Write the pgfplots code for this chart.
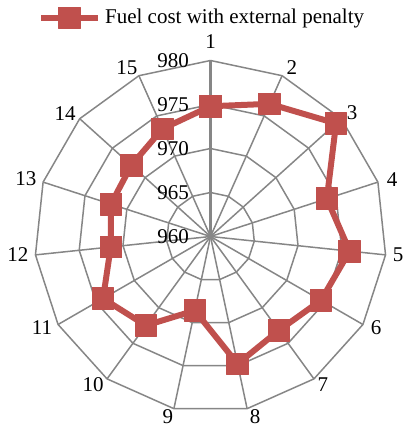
\documentclass[border=0pt]{standalone}
\usepackage{fontspec}
\setmainfont{Liberation Serif}
\usepackage{pgfplots}
\pgfplotsset{compat=1.18}
\usepackage{pgfplotstable}

\definecolor{fuelred}{RGB}{192,80,77}
\definecolor{webgray}{RGB}{134,134,134}
\newcommand\chartfont{\fontsize{10.5}{12.6}\selectfont}

% spoke angle (degrees, clockwise from the top) and fuel cost per case
\pgfplotstableread{
idx a v
1 90 974.8
2 66 976.5
3 42 979.2
4 18 973.9
5 -6 975.9
6 -30 974.5
7 -54 973.2
8 -78 974.8
9 -102 968.6
10 -126 972.5
11 -150 974.1
12 -174 971.4
13 -198 971.9
14 -222 972.1
15 -246 973.4
1 -270 974.8
}\fuelcost

\begin{document}
\begin{tikzpicture}[font=\chartfont]
\begin{axis}[
  anchor=origin,
  x=4.4pt, y=4.4pt,
  xmin=-20, xmax=20, ymin=-20, ymax=20,
  hide axis, clip=false,
  legend style={at={(axis description cs:0.479,1.121)}, anchor=center,
    draw=none, fill=none, font=\chartfont, inner sep=0pt},
  legend image code/.code={\draw[#1, mark repeat=2, mark phase=2]
    plot coordinates {(0pt,0pt) (14.25pt,0pt) (28.5pt,0pt)};},
]
% polygonal grid rings: 965, 970, 975, 980
\pgfplotsinvokeforeach{5,10,15,20}{
  \addplot[webgray, line width=0.75pt, data cs=polar, forget plot, mark=none]
    table[x=a, y expr=#1] {\fuelcost};
}
% spokes
\pgfplotsinvokeforeach{66,42,18,-6,-30,-54,-78,-102,-126,-150,-174,-198,-222,-246}{
  \addplot[webgray, line width=0.75pt, data cs=polar, forget plot, mark=none]
    coordinates {(#1,0) (#1,20)};
}
% value axis
\addplot[webgray, line width=1.3pt, data cs=polar, forget plot, mark=none]
  coordinates {(90,0) (90,20)};

% fuel cost series (radius measured from 960)
\addplot[fuelred, line width=3pt, line join=round, mark=square*,
  mark size=5.4pt, mark options={solid, line width=0.4pt, fill=fuelred},
  data cs=polar]
  table[x=a, y expr=\thisrow{v}-960] {\fuelcost};
\addlegendentry{Fuel cost with external penalty}

% value labels
\node[anchor=east, inner sep=0pt] at (axis cs:-2.4,0) {960};
\node[anchor=east, inner sep=0pt] at (axis cs:-2.4,5) {965};
\node[anchor=east, inner sep=0pt] at (axis cs:-2.4,10) {970};
\node[anchor=east, inner sep=0pt] at (axis cs:-2.4,15) {975};
\node[anchor=east, inner sep=0pt] at (axis cs:-2.4,20) {980};

% category labels
\begin{scope}[every node/.style={inner sep=0pt, anchor=center}]
\node at (axis cs:0,22.10) {1};
\node at (axis cs:9.26,19.15) {2};
\node at (axis cs:16.08,14.03) {3};
\node at (axis cs:20.63,6.42) {4};
\node at (axis cs:21.31,-2.10) {5};
\node at (axis cs:18.81,-10.40) {6};
\node at (axis cs:12.78,-16.88) {7};
\node at (axis cs:5.06,-20.51) {8};
\node at (axis cs:-4.83,-20.51) {9};
\node at (axis cs:-13.35,-16.88) {10};
\node at (axis cs:-19.15,-10.40) {11};
\node at (axis cs:-21.88,-2.10) {12};
\node at (axis cs:-20.97,6.53) {13};
\node at (axis cs:-16.53,13.92) {14};
\node at (axis cs:-9.49,19.15) {15};
\end{scope}
\end{axis}
\pgfresetboundingbox
\path (-105.25pt,-94.75pt) rectangle (96.25pt,118.25pt);
\end{tikzpicture}
\end{document}
